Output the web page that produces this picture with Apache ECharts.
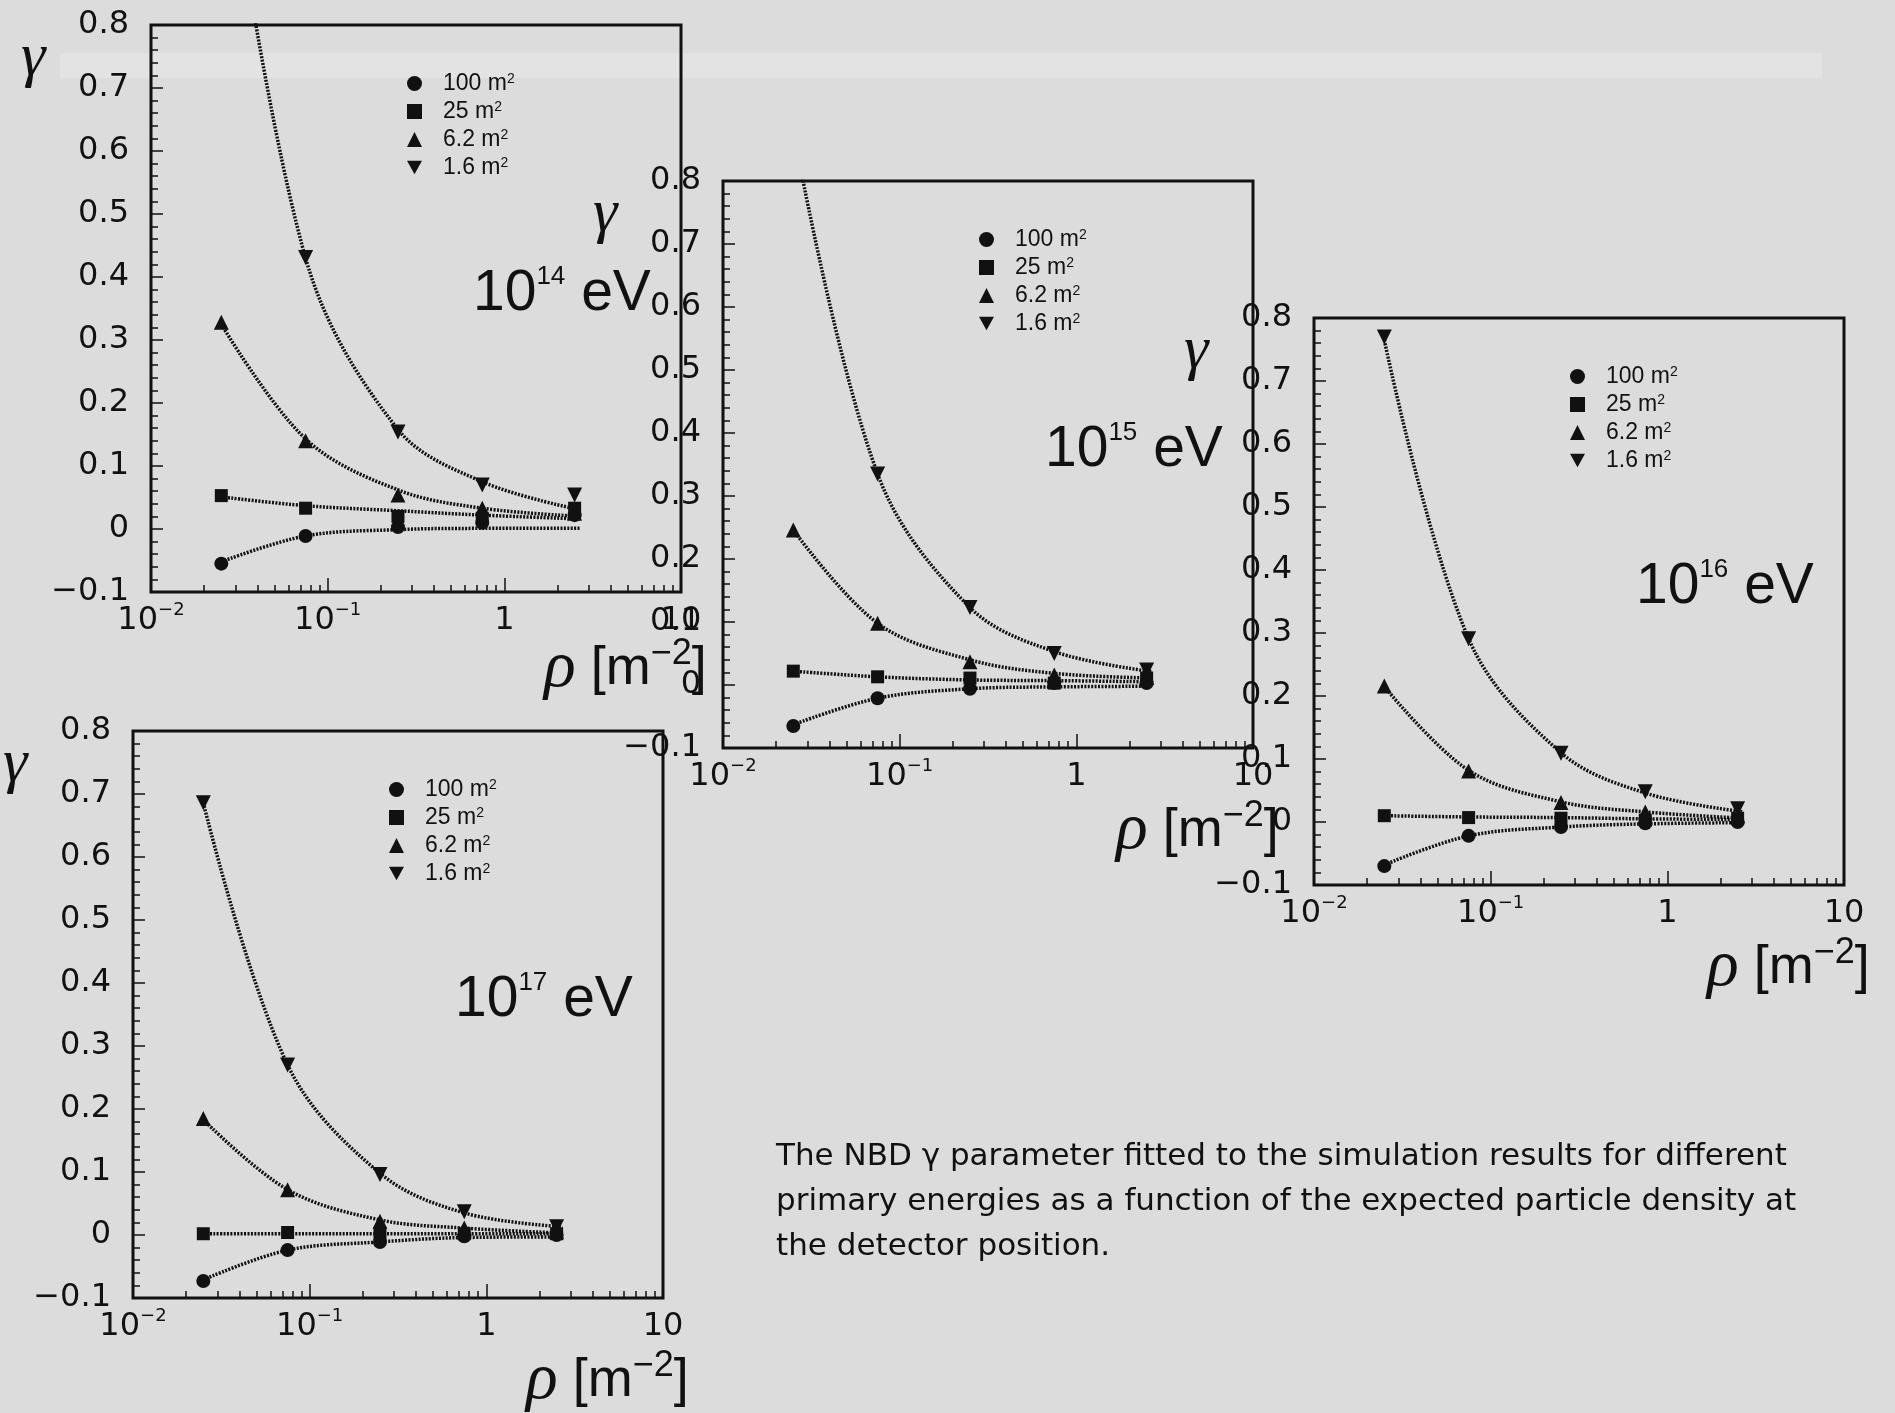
<!DOCTYPE html>
<html>
<head>
<meta charset="utf-8">
<script src="https://cdn.jsdelivr.net/npm/echarts@6/dist/echarts.min.js"></script>
<style>
  html, body { margin: 0; padding: 0; background: #dcdcdc; }
  #chart { width: 1895px; height: 1413px; }
</style>
</head>
<body>
<div id="chart"></div>
<script>
// Expected particle density at the detector [m^-2]: simulated points and fit evaluation points
const rho = [0.025, 0.075, 0.25, 0.75, 2.5];
const rhoFit = [0.025, 0.075, 0.25, 0.75, 2.7];

// Detector areas (legend entries) and primary energies (exponent of 10, eV)
const detectorAreas = ['100 m²', '25 m²', '6.2 m²', '1.6 m²'];
const energies = ['14', '15', '16', '17'];

// Axis ticks
const decadeTicks = [0.01, 0.1, 1, 10];
const minorRhoTicks = [0.02, 0.03, 0.04, 0.05, 0.06, 0.07, 0.08, 0.09,
                       0.2, 0.3, 0.4, 0.5, 0.6, 0.7, 0.8, 0.9,
                       2, 3, 4, 5, 6, 7, 8, 9];

// Simulated NBD γ, rows in detectorAreas order (null = above the plotted range)
const sim14 = [
  [-0.055, -0.011, 0.003, 0.010, 0.022],
  [0.053, 0.033, 0.020, 0.017, 0.033],
  [0.328, 0.140, 0.054, 0.033, 0.025],
  [null, 0.431, 0.154, 0.070, 0.054]
];
const sim15 = [
  [-0.065, -0.021, -0.006, 0.003, 0.003],
  [0.022, 0.013, 0.011, 0.003, 0.011],
  [0.246, 0.098, 0.037, 0.016, 0.012],
  [null, 0.335, 0.123, 0.050, 0.024]
];
const sim16 = [
  [-0.070, -0.022, -0.008, -0.002, 0.000],
  [0.010, 0.007, 0.006, 0.003, 0.006],
  [0.216, 0.081, 0.031, 0.016, 0.010],
  [0.770, 0.291, 0.109, 0.048, 0.021]
];
const sim17 = [
  [-0.073, -0.024, -0.011, -0.002, 0.000],
  [0.002, 0.004, 0.002, 0.002, 0.002],
  [0.185, 0.072, 0.022, 0.011, 0.005],
  [0.686, 0.270, 0.096, 0.037, 0.013]
];

// Fitted γ(ρ) curves evaluated at rhoFit
const fit14 = [
  [-0.052, -0.011, -0.001, 0.001, 0.001],
  [0.051, 0.037, 0.029, 0.022, 0.016],
  [0.325, 0.143, 0.062, 0.033, 0.020],
  [1.15, 0.430, 0.158, 0.075, 0.030]
];
const fit15 = [
  [-0.063, -0.021, -0.006, -0.003, -0.002],
  [0.022, 0.013, 0.008, 0.007, 0.005],
  [0.246, 0.098, 0.040, 0.0185, 0.011],
  [0.88, 0.335, 0.123, 0.053, 0.021]
];
const fit16 = [
  [-0.068, -0.022, -0.008, -0.003, -0.001],
  [0.010, 0.008, 0.007, 0.005, 0.004],
  [0.215, 0.082, 0.032, 0.016, 0.006],
  [0.765, 0.291, 0.110, 0.046, 0.016]
];
const fit17 = [
  [-0.071, -0.024, -0.011, -0.004, -0.003],
  [0.002, 0.002, 0.002, 0.002, 0.002],
  [0.183, 0.072, 0.024, 0.011, 0.003],
  [0.686, 0.270, 0.098, 0.035, 0.013]
];

const simByEnergy = [sim14, sim15, sim16, sim17];
const fitByEnergy = [fit14, fit15, fit16, fit17];

// ---- layout & style ----
const PANEL_W = 530, PANEL_H = 567;
const panelPos = [[151, 25], [723, 181], [1314, 318], [133, 731]];
const rhoLabelDrop = [44, 50, 50, 50];
const INK = '#111';
const TICK_FONT = 'DejaVu Sans';
const markerShapes = ['circle', 'rect', 'triangle', 'triangle'];
const markerRotate = [0, 0, 0, 180];
const markerSizes = [14, 13, 15, 15];
const legendIcons = ['circle', 'rect', 'triangle', 'path://M0,0L10,0L5,9Z'];

function decadeLabel(v) {
  const e = Math.round(Math.log10(v));
  if (e === 0) return '{b|1}';
  if (e === 1) return '{b|10}';
  return '{b|10}{s|\u2212' + (-e) + '}';
}
function gammaLabel(v) {
  if (Math.abs(v) < 1e-9) return '0';
  return (v < 0 ? '\u2212' : '') + Math.abs(v).toFixed(1);
}

const grids = [], xAxes = [], yAxes = [], series = [], legends = [], titles = [];

panelPos.forEach(([left, top], p) => {
  grids.push({
    left, top, width: PANEL_W, height: PANEL_H,
    show: true, borderColor: INK, borderWidth: 3, backgroundColor: 'transparent',
    containLabel: false, outerBoundsMode: 'none'
  });

  // main log axis: decades with labels
  xAxes.push({
    type: 'log', logBase: 10, gridIndex: p, min: 0.01, max: 10, position: 'bottom',
    axisLine: { show: false, onZero: false },
    splitLine: { show: false },
    axisTick: { inside: true, length: 14, customValues: decadeTicks, lineStyle: { color: INK, width: 1.5 } },
    axisLabel: {
      customValues: decadeTicks, formatter: decadeLabel, margin: 9,
      showMinLabel: true, showMaxLabel: true, hideOverlap: false,
      rich: {
        b: { fontFamily: TICK_FONT, fontSize: 32, color: INK, lineHeight: 40 },
        s: { fontFamily: TICK_FONT, fontSize: 18, color: INK, lineHeight: 16, verticalAlign: 'top' }
      }
    }
  });
  // companion log axis carrying the 2..9 sub-decade ticks
  xAxes.push({
    type: 'log', logBase: 10, gridIndex: p, min: 0.01, max: 10, position: 'bottom',
    axisLine: { show: false, onZero: false },
    splitLine: { show: false },
    axisLabel: { show: false },
    axisTick: { inside: true, length: 7, customValues: minorRhoTicks, lineStyle: { color: INK, width: 1.5 } }
  });

  yAxes.push({
    type: 'value', gridIndex: p, min: -0.1, max: 0.8, interval: 0.1,
    axisLine: { show: false, onZero: false },
    splitLine: { show: false },
    axisTick: { inside: true, length: 12, lineStyle: { color: INK, width: 1.5 } },
    minorTick: { show: true, splitNumber: 5, length: 7, lineStyle: { color: INK, width: 1.5 } },
    axisLabel: {
      formatter: gammaLabel, margin: 22, showMinLabel: true, showMaxLabel: true,
      fontFamily: TICK_FONT, fontSize: 32, color: INK
    }
  });

  const sims = simByEnergy[p], fits = fitByEnergy[p];
  detectorAreas.forEach((area, k) => {
    series.push({
      name: area + ' fit', type: 'line', xAxisIndex: 2 * p, yAxisIndex: p,
      data: rhoFit.map((x, i) => [x, fits[k][i]]),
      showSymbol: false, smooth: 0.35, clip: true, silent: true, z: 2,
      lineStyle: { color: INK, width: 3.5, type: [2, 1.4], opacity: 1 }
    });
    series.push({
      name: area, type: 'scatter', xAxisIndex: 2 * p, yAxisIndex: p,
      data: rho.map((x, i) => [x, sims[k][i]]).filter(d => d[1] !== null),
      symbol: markerShapes[k], symbolRotate: markerRotate[k], symbolSize: markerSizes[k],
      itemStyle: { color: INK, opacity: 1 }, clip: true, silent: true, z: 3
    });
  });

  legends.push({
    left: left + 256, top: top + 47, orient: 'vertical', padding: 0,
    itemWidth: 15, itemHeight: 15, itemGap: 5, selectedMode: false,
    data: detectorAreas.map((a, k) => ({ name: a, icon: legendIcons[k] })),
    formatter: n => '{a|' + n.replace(' m²', ' m') + '}{s|2}',
    itemStyle: { opacity: 1 },
    textStyle: {
      rich: {
        a: { fontFamily: 'Liberation Sans', fontSize: 23, color: INK, lineHeight: 23, padding: [0, 0, 0, 16] },
        s: { fontFamily: 'Liberation Sans', fontSize: 14, color: INK, lineHeight: 13, verticalAlign: 'top' }
      }
    }
  });

  // γ axis title
  titles.push({
    text: 'γ', left: left - 130, top: top + 3, padding: 0,
    textStyle: { fontFamily: 'Liberation Serif', fontStyle: 'italic', fontWeight: 'normal',
                 fontSize: 62, lineHeight: 62, color: INK }
  });
  // primary energy
  titles.push({
    text: '{b|10}{s|' + energies[p] + '}{b| eV}', left: left + 322, top: top + 239, padding: 0,
    textStyle: {
      fontWeight: 'normal',
      rich: {
        b: { fontFamily: 'Liberation Sans', fontWeight: 'normal', fontSize: 57, lineHeight: 60, color: INK },
        s: { fontFamily: 'Liberation Sans', fontWeight: 'normal', fontSize: 26, lineHeight: 30, color: INK, verticalAlign: 'top' }
      }
    }
  });
  // ρ axis title
  titles.push({
    text: '{r|ρ}{b| [m}{s|\u22122}{b|]}', left: left + 393, top: top + PANEL_H + rhoLabelDrop[p], padding: 0,
    textStyle: {
      fontWeight: 'normal',
      rich: {
        r: { fontFamily: 'Liberation Serif', fontStyle: 'italic', fontWeight: 'normal', fontSize: 66, lineHeight: 66, color: INK },
        b: { fontFamily: 'Liberation Sans', fontWeight: 'normal', fontSize: 54, lineHeight: 66, color: INK },
        s: { fontFamily: 'Liberation Sans', fontWeight: 'normal', fontSize: 36, lineHeight: 34, color: INK, verticalAlign: 'top' }
      }
    }
  });
});

// caption
titles.push({
  text: 'The NBD γ parameter fitted to the simulation results for different\n' +
        'primary energies as a function of the expected particle density at\n' +
        'the detector position.',
  left: 776, top: 1134, padding: 0,
  textStyle: { fontFamily: 'DejaVu Sans', fontWeight: 'normal', fontSize: 31, lineHeight: 45, color: INK }
});

const chart = echarts.init(document.getElementById('chart'), null, { renderer: 'canvas' });
chart.setOption({
  backgroundColor: '#dcdcdc',
  animation: false,
  graphic: [{
    type: 'rect', z: -10, silent: true,
    shape: { x: 60, y: 53, width: 1762, height: 25 },
    style: { fill: 'rgba(255,255,255,0.2)' }
  }],
  title: titles,
  legend: legends,
  grid: grids,
  xAxis: xAxes,
  yAxis: yAxes,
  series: series
});
</script>
</body>
</html>
